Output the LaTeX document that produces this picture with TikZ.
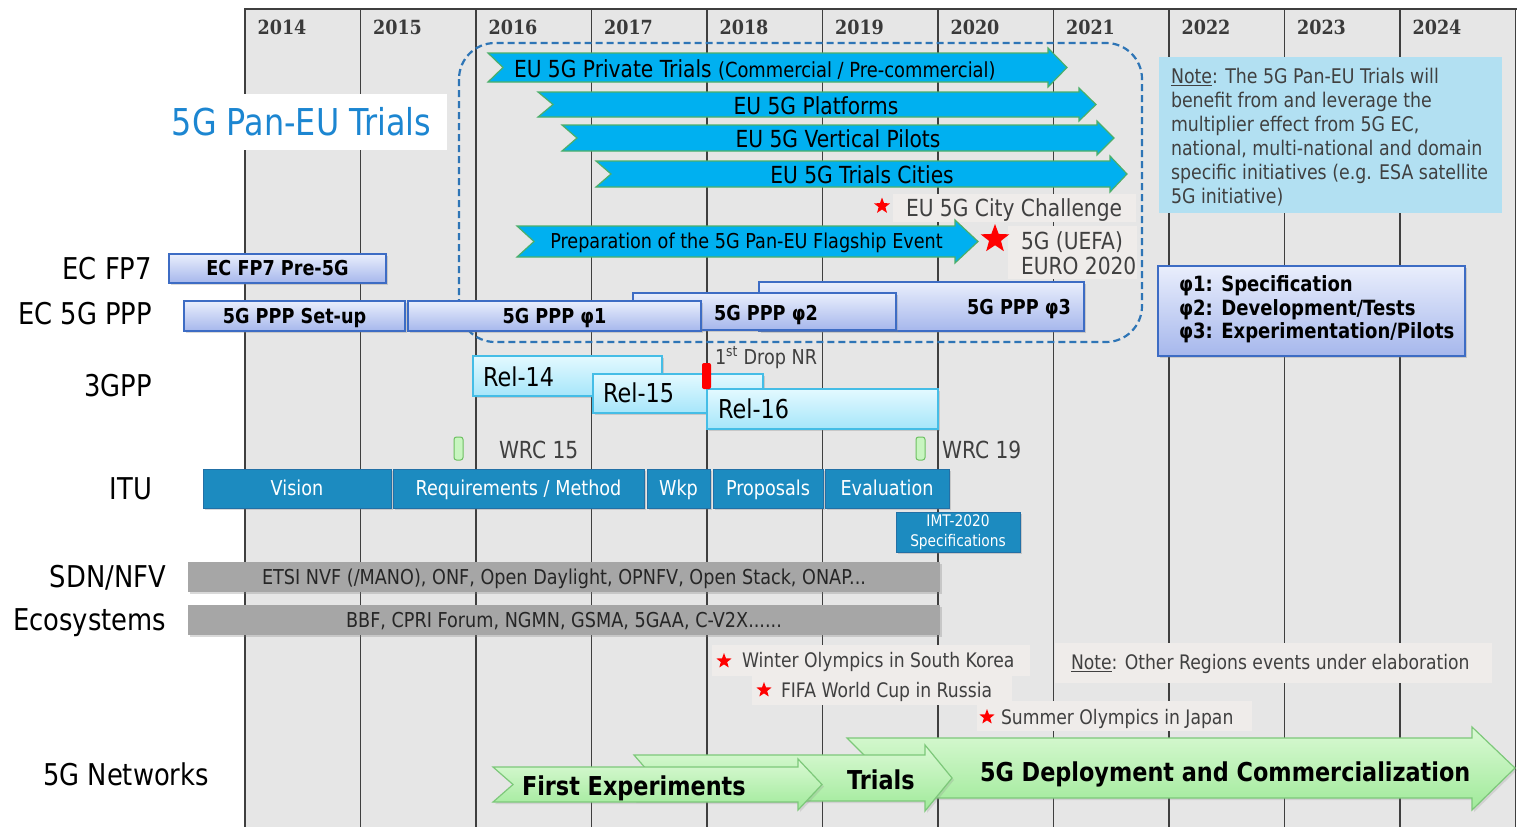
\documentclass[tikz,border=0pt]{standalone}
\usepackage{fontspec}
\setmainfont{DejaVu Sans}[FakeStretch=0.86]
\newfontfamily\yrfont{DejaVu Serif}[FakeStretch=0.9]
\usetikzlibrary{shapes.geometric,shadows}
\definecolor{gridbg}{HTML}{E6E6E6}
\definecolor{gridln}{HTML}{3F3F3F}
\definecolor{dashc}{HTML}{2E75B6}
\definecolor{cyanF}{HTML}{00B0F0}
\definecolor{cyanD}{HTML}{4CAF6A}
\definecolor{lavT}{HTML}{E9EEFC}
\definecolor{lavB}{HTML}{A6B7EC}
\definecolor{lavD}{HTML}{3D6CC4}
\definecolor{relT}{HTML}{E3F9FF}
\definecolor{relB}{HTML}{A6E6FA}
\definecolor{relD}{HTML}{45BDE6}
\definecolor{ituF}{HTML}{1C8BC0}
\definecolor{ituD}{HTML}{2270A6}
\definecolor{grayF}{HTML}{A6A6A6}
\definecolor{noteF}{HTML}{B2E0F2}
\definecolor{evF}{HTML}{EFECEA}
\definecolor{txtG}{HTML}{404040}
\definecolor{grnT}{HTML}{DAF9D4}
\definecolor{grnB}{HTML}{A0EA9A}
\definecolor{grnD}{HTML}{7DC87A}
\definecolor{titleC}{HTML}{1C86D1}
\definecolor{wrcF}{HTML}{C8F5C0}
\definecolor{wrcD}{HTML}{6CC060}
\tikzset{
  cf/.style={font=\fontsize{#1}{#1}\selectfont, text height=0.73*#1, text depth=0},
  cfb/.style={font=\bfseries\fontsize{#1}{#1}\selectfont, text height=0.73*#1, text depth=0},
  gridline/.style={draw=gridln, line width=1.3pt},
  yearlbl/.style={font=\yrfont\bfseries\fontsize{19.5}{19.5}\selectfont, text height=14.2, text depth=0, text=txtG!90!black},
  sidelbl/.style={cf=30, text=black, anchor=east},
  shd/.style={drop shadow={opacity=0.3, shadow xshift=2pt, shadow yshift=-2pt}},
  cyarrow/.style={fill=cyanF, draw=cyanD, line width=1.2pt},
  grarrow/.style={top color=grnT, bottom color=grnB, draw=grnD, line width=1.2pt, drop shadow={opacity=0.2, shadow xshift=2pt, shadow yshift=-2pt}},
  lavbox/.style={draw=lavD, line width=1.4pt, top color=lavT, bottom color=lavB, shd, cfb=20.5, text=black, anchor=north west},
  relbox/.style={draw=relD, line width=1.2pt, top color=relT, bottom color=relB, shd, anchor=north west},
  reltxt/.style={cf=26, text=black, anchor=west},
  itubox/.style={fill=ituF, draw=ituD, line width=1pt, text=white, cf=20.5, shd, anchor=north west, minimum height=39},
  imtbox/.style={fill=ituF, draw=ituD, line width=1pt, text=white, shd, anchor=north west, align=center, font=\fontsize{16}{20}\selectfont},
  graybar/.style={fill=grayF, text=black!85, cf=20.5, shd, anchor=north west, minimum width=752, minimum height=30},
  evtext/.style={cf=20, text=txtG, anchor=west},
  gtext/.style={cf=23.5, text=txtG, anchor=west},
  redstar/.style={star, star points=5, star point ratio=2.4, fill=red, draw=none, minimum size=#1},
  wrcm/.style={fill=wrcF, draw=wrcD, line width=1pt, rounded corners=2.5pt, anchor=north west, minimum width=9, minimum height=23},
  arrtxt/.style={cf=23.5, text=black},
  gartxt/.style={cfb=26, text=black, anchor=west},
}
\begin{document}
\begin{tikzpicture}[x=1pt,y=-1pt, every node/.style={inner sep=0pt, outer sep=0pt}]
\useasboundingbox (0,0) rectangle (1520,827);
% grid
\fill[gridbg] (245,9) rectangle (1516,827);
\foreach \i in {0,...,11} \draw[gridline] ({245+115.5*\i},9) -- ({245+115.5*\i},827);
\draw[gridline] (244.35,9) -- (1516.65,9);
\foreach \yr [count=\i from 0] in {2014,...,2024} \node[yearlbl] (y\yr) at ({282+115.5*\i},27) {\yr};
% title
\fill[white] (160,94) rectangle (447,150);
\node[cf=37, text=titleC] (title) at (301.5,121.5) {5G Pan-EU Trials};
% note box
\fill[noteF] (1159,57) rectangle (1502,213);
\node[anchor=north west, align=left, text=txtG, font=\fontsize{20.2}{24}\selectfont] (note) at (1171,68)
  {\underline{Note}: The 5G Pan-EU Trials will\\benefit from and leverage the\\multiplier effect from 5G EC,\\national, multi-national and domain\\specific initiatives (e.g. ESA satellite\\5G initiative)};
% legend box
\node[lavbox, minimum width=307, minimum height=90] (legend) at (1158,266) {};
\node[anchor=north west, align=left, text=black, font=\bfseries\fontsize{21}{23.5}\selectfont] (legtxt) at (1179,276)
  {φ1: Specification\\φ2: Development/Tests\\φ3: Experimentation/Pilots};
% event backgrounds
\fill[evF] (893,194) rectangle (1136,222);
\fill[evF] (1008,226) rectangle (1137,279);
\fill[evF] (712,645) rectangle (1030,676);
\fill[evF] (752,676) rectangle (1012,705);
\fill[evF] (977,701) rectangle (1252,731);
\fill[evF] (1055,643) rectangle (1492,683);
% dashed region
\draw[dashc, line width=2.2pt, dash pattern=on 7pt off 4pt, rounded corners=36pt] (459,43) rectangle (1142,342);
% cyan arrows
\draw[cyarrow] (488,53) -- (1048,53) -- (1048,48) -- (1067,67.5) -- (1048,87) -- (1048,82) -- (488,82) -- (503,67.5) -- cycle;
\draw[cyarrow] (538,92) -- (1079,92) -- (1079,88) -- (1096,104.5) -- (1079,121) -- (1079,117) -- (538,117) -- (553,104.5) -- cycle;
\draw[cyarrow] (562,125) -- (1097,125) -- (1097,121) -- (1114,138) -- (1097,155) -- (1097,151) -- (562,151) -- (577,138) -- cycle;
\draw[cyarrow] (596,161) -- (1110,161) -- (1110,156) -- (1127,174) -- (1110,192) -- (1110,187) -- (596,187) -- (611,174) -- cycle;
\draw[cyarrow] (517,226) -- (955,226) -- (955,220) -- (978,241.5) -- (955,263) -- (955,257) -- (517,257) -- (534,241.5) -- cycle;
\node[arrtxt, anchor=west] (a1t) at (514,68.5) {EU 5G Private Trials {\fontsize{20.8}{20.8}\selectfont(Commercial / Pre-commercial)}};
\node[arrtxt] (a2t) at (816,106) {EU 5G Platforms};
\node[arrtxt] (a3t) at (838,138.5) {EU 5G Vertical Pilots};
\node[arrtxt] (a4t) at (862,175) {EU 5G Trials Cities};
\node[cf=20.5, text=black] (a5t) at (746.5,241) {Preparation of the 5G Pan-EU Flagship Event};
% events near arrows
\node[redstar=17] (cstar) at (882,206) {};
\node[gtext] (cct) at (906,208) {EU 5G City Challenge};
\node[redstar=30] (bstar) at (995,239) {};
\node[gtext] (uefa) at (1021,240.5) {5G (UEFA)};
\node[gtext] (euro) at (1021,265.5) {EURO 2020};
% PPP boxes
\node[lavbox, minimum width=325, minimum height=49] (p3) at (759,282) {};
\node[cfb=20.5, anchor=east] (p3t) at (1071,307) {5G PPP φ3};
\node[lavbox, minimum width=263, minimum height=37] (p2) at (633,293) {};
\node[cfb=20.5, anchor=west] (p2t) at (714,313) {5G PPP φ2};
\node[lavbox, minimum width=293, minimum height=30] (p1) at (408,301) {5G PPP φ1};
\node[lavbox, minimum width=221, minimum height=30] (setup) at (184,301) {5G PPP Set-up};
\node[lavbox, minimum width=217, minimum height=29] (fp7) at (169,254) {EC FP7 Pre-5G};
% 3GPP
\node[relbox, minimum width=189, minimum height=40] (r14) at (473,356) {};
\node[reltxt] (r14t) at (483,377) {Rel-14};
\node[relbox, minimum width=170, minimum height=39] (r15) at (593,374) {};
\node[reltxt] (r15t) at (603,393.5) {Rel-15};
\node[relbox, minimum width=231, minimum height=40] (r16) at (707,389) {};
\node[reltxt] (r16t) at (718,409) {Rel-16};
\node[fill=red, rounded corners=2pt, anchor=north west, minimum width=9, minimum height=26] (nr) at (702,363) {};
\node[cf=20.5, text=txtG, anchor=west] (nrt) at (715,357) {1\textsuperscript{st} Drop NR};
% WRC
\node[wrcm] (w15) at (454,437) {};
\node[gtext] (w15t) at (499,450) {WRC 15};
\node[wrcm] (w19) at (916,437) {};
\node[gtext] (w19t) at (942,450) {WRC 19};
% ITU
\node[itubox, minimum width=188] (vis) at (203,469) {Vision};
\node[itubox, minimum width=251] (req) at (393,469) {Requirements / Method};
\node[itubox, minimum width=63] (wkp) at (647,469) {Wkp};
\node[itubox, minimum width=110] (prop) at (713,469) {Proposals};
\node[itubox, minimum width=124] (eval) at (825,469) {Evaluation};
\node[imtbox, minimum width=124, minimum height=40] (imt) at (896,512) {IMT-2020\\Specifications};
% SDN / ecosystems
\node[graybar] (sdn) at (188,562) {ETSI NVF (/MANO), ONF, Open Daylight, OPNFV, Open Stack, ONAP...};
\node[graybar] (eco) at (188,605) {BBF, CPRI Forum, NGMN, GSMA, 5GAA, C-V2X......};
% bottom events
\node[redstar=16] (s1) at (724,661) {};
\node[evtext] (e1) at (742,660) {Winter Olympics in South Korea};
\node[redstar=16] (s2) at (764,690) {};
\node[evtext] (e2) at (781,690) {FIFA World Cup in Russia};
\node[redstar=16] (s3) at (987,717) {};
\node[evtext] (e3) at (1001,717) {Summer Olympics in Japan};
\node[evtext] (e4) at (1071,662) {\underline{Note}: Other Regions events under elaboration};
% green arrows
\draw[grarrow] (847,738) -- (1472,738) -- (1472,727) -- (1515,768) -- (1472,810) -- (1472,798) -- (847,798) -- (877,768) -- cycle;
\draw[grarrow] (634,755) -- (925,755) -- (925,745) -- (952,778) -- (925,811) -- (925,801) -- (634,801) -- (654,778) -- cycle;
\draw[grarrow] (493,767) -- (798,767) -- (798,759) -- (822,784.5) -- (798,810) -- (798,802) -- (493,802) -- (513,784.5) -- cycle;
\node[gartxt] (fet) at (522,785.5) {First Experiments};
\node[gartxt] (trt) at (847,780) {Trials};
\node[gartxt] (dpt) at (980,772) {5G Deployment and Commercialization};
% side labels
\node[sidelbl] (lfp7) at (152,269) {EC FP7};
\node[sidelbl] (lppp) at (152,314) {EC 5G PPP};
\node[sidelbl] (l3gpp) at (152,385.5) {3GPP};
\node[sidelbl] (litu) at (152,488.5) {ITU};
\node[sidelbl] (lsdn) at (166,577) {SDN/NFV};
\node[sidelbl] (leco) at (166,619.5) {Ecosystems};
\node[sidelbl] (l5g) at (209,774.5) {5G Networks};
\end{tikzpicture}
\end{document}
